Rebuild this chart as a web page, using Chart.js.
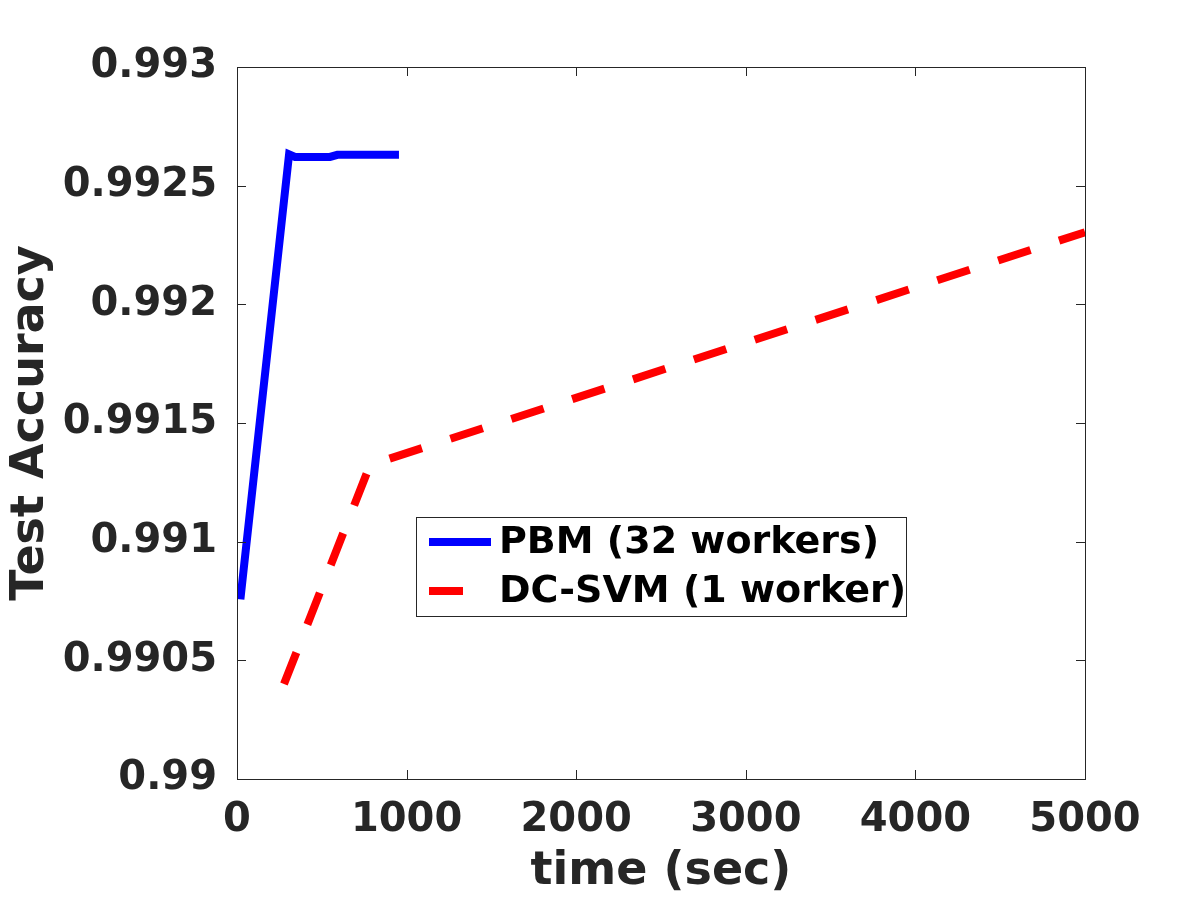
<!DOCTYPE html>
<html>
<head>
<meta charset="utf-8">
<script src="https://cdn.jsdelivr.net/npm/chart.js@4/dist/chart.umd.min.js"></script>
<style>
  html, body { margin: 0; padding: 0; background: #fff; }
  #wrap { width: 1200px; height: 900px; }
</style>
</head>
<body>
<div id="wrap"><canvas id="chart" width="1200" height="900"></canvas></div>
<script>
// data
const pbmTime = [20, 307, 342, 548, 592, 955];
const pbmAcc = [0.990757, 0.992632, 0.992621, 0.992621, 0.992630, 0.992630];
const dcTime = [277, 784, 5000];
const dcAcc = [0.99040, 0.991323, 0.992304];
const seriesLabels = ['PBM (32 workers)', 'DC-SVM (1 worker)'];
const xTicks = [0, 1000, 2000, 3000, 4000, 5000];
const yTicks = [0.99, 0.9905, 0.991, 0.9915, 0.992, 0.9925, 0.993];
const yTickLabels = ['0.99', '0.9905', '0.991', '0.9915', '0.992', '0.9925', '0.993'];

const axisColor = '#262626';
const fontFam = '"DejaVu Sans", sans-serif';

function toPoints(xs, ys) {
  return xs.map((x, i) => ({ x: x, y: ys[i] }));
}

// box around the plot with inward ticks on all four sides
const frame = {
  id: 'frame',
  afterDraw(chart) {
    const ctx = chart.ctx;
    const a = chart.chartArea;
    const xs = chart.scales.x, ys = chart.scales.y;
    const len = 9;
    ctx.save();
    ctx.strokeStyle = axisColor;
    ctx.lineWidth = 1;
    ctx.strokeRect(a.left + 0.5, a.top + 0.5, a.right - a.left, a.bottom - a.top);
    ctx.beginPath();
    xTicks.forEach(v => {
      const px = Math.round(xs.getPixelForValue(v)) + 0.5;
      ctx.moveTo(px, a.bottom); ctx.lineTo(px, a.bottom - len);
      ctx.moveTo(px, a.top); ctx.lineTo(px, a.top + len);
    });
    yTicks.forEach(v => {
      const py = Math.round(ys.getPixelForValue(v)) + 0.5;
      ctx.moveTo(a.left, py); ctx.lineTo(a.left + len, py);
      ctx.moveTo(a.right, py); ctx.lineTo(a.right - len, py);
    });
    ctx.stroke();
    ctx.restore();
  }
};

// legend box inside the plot
const boxLegend = {
  id: 'boxLegend',
  afterDraw(chart) {
    const ctx = chart.ctx;
    const x0 = 416, y0 = 517, w = 490, h = 99;
    ctx.save();
    ctx.fillStyle = '#fff';
    ctx.fillRect(x0, y0, w, h);
    ctx.strokeStyle = axisColor;
    ctx.lineWidth = 1;
    ctx.strokeRect(x0 + 0.5, y0 + 0.5, w, h);
    const rows = [542, 591];
    chart.data.datasets.forEach((ds, i) => {
      const y = rows[i];
      ctx.strokeStyle = ds.borderColor;
      ctx.lineWidth = ds.borderWidth;
      ctx.lineCap = 'butt';
      ctx.setLineDash(ds.borderDash || []);
      ctx.beginPath();
      ctx.moveTo(429, y);
      ctx.lineTo(491, y);
      ctx.stroke();
      ctx.setLineDash([]);
      ctx.fillStyle = '#000';
      ctx.font = 'bold 38px ' + fontFam;
      ctx.textBaseline = 'middle';
      ctx.textAlign = 'left';
      ctx.fillText(ds.label, 499, y + 1);
    });
    ctx.restore();
  }
};

new Chart(document.getElementById('chart').getContext('2d'), {
  type: 'line',
  data: {
    datasets: [{
      label: seriesLabels[0],
      data: toPoints(pbmTime, pbmAcc),
      borderColor: '#0000ff',
      borderWidth: 8,
      pointRadius: 0,
      tension: 0,
      fill: false
    }, {
      label: seriesLabels[1],
      data: toPoints(dcTime, dcAcc),
      borderColor: '#ff0000',
      borderWidth: 8,
      borderDash: [34, 30],
      borderCapStyle: 'butt',
      pointRadius: 0,
      tension: 0,
      fill: false
    }]
  },
  options: {
    responsive: false,
    animation: false,
    layout: { padding: { top: 67, right: 115, left: 0, bottom: 0 } },
    plugins: {
      legend: { display: false },
      tooltip: { enabled: false }
    },
    scales: {
      x: {
        type: 'linear',
        min: 0,
        max: 5000,
        afterBuildTicks: s => { s.ticks = xTicks.map(v => ({ value: v })); },
        afterFit: s => { s.height = 121; },
        grid: { display: false },
        border: { display: false },
        ticks: {
          color: axisColor,
          font: { family: fontFam, size: 40, weight: 'bold' },
          padding: 10,
          maxRotation: 0,
          autoSkip: false,
          callback: v => String(v)
        },
        title: {
          display: true,
          text: 'time (sec)',
          color: axisColor,
          font: { family: fontFam, size: 46, weight: 'bold' },
          padding: { top: 0, bottom: 0 }
        }
      },
      y: {
        type: 'linear',
        min: 0.99,
        max: 0.993,
        afterBuildTicks: s => { s.ticks = yTicks.map(v => ({ value: v })); },
        afterFit: s => { s.width = 237; },
        grid: { display: false },
        border: { display: false },
        ticks: {
          color: axisColor,
          font: { family: fontFam, size: 40, weight: 'bold' },
          padding: 12,
          autoSkip: false,
          callback: v => yTickLabels[yTicks.indexOf(v)] ?? String(v)
        },
        title: {
          display: true,
          text: 'Test Accuracy',
          color: axisColor,
          font: { family: fontFam, size: 46, weight: 'bold' },
          padding: { top: 3, bottom: 0 }
        }
      }
    }
  },
  plugins: [frame, boxLegend]
});
</script>
</body>
</html>
